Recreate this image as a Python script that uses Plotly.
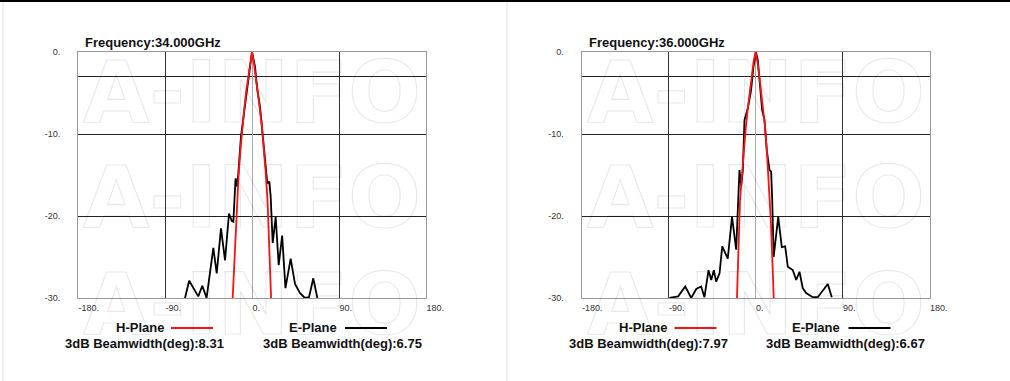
import plotly.graph_objects as go

# ---- data -------------------------------------------------------------
frequencies = ["Frequency:34.000GHz", "Frequency:36.000GHz"]
h_beamwidth = [8.31, 7.97]
e_beamwidth = [6.75, 6.67]

x_tickvals = [-180, -90, 0, 90, 180]
x_ticktext = ["-180.", "-90.", "0.", "90.", "180."]
y_tickvals = [0, -10, -20, -30]
y_ticktext = ["0.", "-10.", "-20.", "-30."]

# 34 GHz, H-plane
h34_angle = [-20, -18, -16, -14, -12, -10, -8, -6, -4, -2, 0,
             2, 4, 6, 8, 10, 12, 14, 16, 18, 20]
h34_db = [-30.0, -24.7, -19.3, -15.3, -12.0, -9.1, -6.9, -4.8, -3.1, -1.4, 0.0,
          -1.4, -3.1, -4.7, -6.8, -8.8, -11.3, -14.4, -17.9, -24.4, -30.7]

# 34 GHz, E-plane
e34_angle = [-69.3, -65.0, -55.6, -51.4, -47.0, -40.0, -36.5, -32.1, -27.9,
             -23.8, -21.0, -19.3, -17.0, -15.6, -14.2, -11.4, -9.0, -5.5,
             -2.1, 0.0, 3.1, 5.5, 8.3, 10.7, 13.4, 15.8, 17.9, 19.3, 21.4,
             24.5, 27.6, 31.2, 34.6, 40.0, 44.5, 49.7, 54.8, 59.0, 63.4, 67.6]
e34_db = [-30.0, -27.9, -29.8, -28.5, -30.0, -23.9, -27.0, -21.5, -25.4,
          -19.7, -20.6, -20.7, -15.4, -16.4, -14.9, -10.3, -8.1, -5.0,
          -1.8, 0.0, -1.8, -4.6, -6.7, -9.9, -13.2, -16.0, -15.8, -17.6, -23.3,
          -20.1, -26.0, -22.4, -28.8, -25.2, -28.3, -29.4, -30.0, -29.9, -27.6, -30.0]

# 36 GHz, H-plane
h36_angle = [-20, -18, -16, -14, -12, -10, -8, -6, -4, -2, 0,
             2, 4, 6, 8, 10, 12, 14, 16, 18, 19]
h36_db = [-33.0, -24.4, -18.1, -15.0, -11.9, -9.2, -6.9, -4.8, -3.0, -1.2, 0.0,
          -1.2, -3.0, -5.0, -7.1, -9.3, -12.6, -16.8, -20.9, -27.2, -30.5]

# 36 GHz, E-plane
e36_angle = [-89.0, -80.0, -72.7, -66.5, -61.3, -56.2, -52.8, -48.6, -45.8,
             -43.1, -40.7, -37.2, -34.4, -28.7, -24.3, -20.0, -16.6, -14.8,
             -13.1, -11.4, -8.0, -4.5, -2.1, 0.5, 2.4, 4.1, 6.9, 9.3, 11.7,
             14.5, 16.2, 17.3, 18.8, 23.5, 27.2, 30.7, 33.4, 38.6, 42.1, 45.5,
             48.9, 52.4, 59.3, 64.4, 74.8, 78.9]
e36_db = [-30.0, -29.8, -28.6, -30.0, -28.9, -28.6, -29.9, -26.6, -27.8,
          -26.6, -28.0, -27.0, -23.7, -25.2, -20.1, -24.1, -14.4, -16.4,
          -14.4, -8.3, -6.9, -4.6, -1.8, 0.0, -1.0, -3.4, -7.1, -8.3, -12.0,
          -14.4, -14.6, -18.0, -25.0, -20.1, -23.8, -23.7, -26.2, -26.6, -27.8, -26.8,
          -28.8, -29.4, -29.9, -29.9, -28.3, -29.9]

panels = [
    (h34_angle, h34_db, e34_angle, e34_db),
    (h36_angle, h36_db, e36_angle, e36_db),
]

# ---- layout geometry (pixels) -----------------------------------------
W, H = 1010, 381
plot_left = [78, 581.5]
plot_w = 348
plot_top, plot_bottom = 52, 298

RED = "#ff1010"
LINE_W = 1.8
FONT = "Liberation Sans, Arial, sans-serif"
TICK_FONT = dict(family="Liberation Sans Narrow, Arial Narrow, Liberation Sans, Arial",
                 size=9, color="#333333")


def px(x):
    return x / W


def py(y):
    return 1 - y / H


fig = go.Figure()
annotations = []
shapes = []

for i, (ha, hd, ea, ed) in enumerate(panels):
    sfx = "" if i == 0 else str(i + 1)
    xa, ya = "x" + sfx, "y" + sfx

    fig.add_trace(go.Scatter(x=ea, y=ed, mode="lines", xaxis=xa, yaxis=ya,
                             line=dict(color="#000000", width=LINE_W),
                             showlegend=False, hoverinfo="skip"))
    fig.add_trace(go.Scatter(x=ha, y=hd, mode="lines", xaxis=xa, yaxis=ya,
                             line=dict(color=RED, width=LINE_W),
                             showlegend=False, hoverinfo="skip"))

    left = plot_left[i]
    fig.layout["xaxis" + sfx] = dict(
        domain=[px(left), px(left + plot_w)], range=[-180, 180], anchor=ya,
        automargin=False,
        tickmode="array", tickvals=x_tickvals, ticktext=x_ticktext,
        ticklabelposition="outside right", ticks="", tickfont=TICK_FONT,
        ticklabelstandoff=1,
        showgrid=False, zeroline=True, zerolinecolor="#aaaaaa", zerolinewidth=1,
        showline=True, linecolor="#999999", linewidth=1, mirror=True,
        minor=dict(tickmode="array", tickvals=[-90, 90], showgrid=True,
                   gridcolor="#333333", gridwidth=1, ticks=""),
        fixedrange=True,
    )
    fig.layout["yaxis" + sfx] = dict(
        domain=[py(plot_bottom), py(plot_top)], range=[-30, 0], anchor=xa,
        automargin=False,
        tickmode="array", tickvals=y_tickvals, ticktext=y_ticktext,
        ticks="", tickfont=TICK_FONT, ticklabelstandoff=15,
        showgrid=False, zeroline=False,
        showline=True, linecolor="#999999", linewidth=1, mirror=True,
        minor=dict(tickmode="array", tickvals=[-3, -10, -20], showgrid=True,
                   gridcolor="#222222", gridwidth=1, ticks=""),
        fixedrange=True,
    )

    # watermark rows
    for row_y in [91.5, 197, 304]:
        annotations.append(dict(
            text="A-INFO", xref="paper", yref="paper",
            x=px(left + plot_w / 2), y=py(row_y), xanchor="center", yanchor="middle",
            showarrow=False,
            font=dict(family="DejaVu Sans", size=86, color="rgba(0,0,0,0.04)",
                      weight="bold"),
        ))

    # title
    annotations.append(dict(
        text=frequencies[i], xref="paper", yref="paper",
        x=px(left + 5), y=py(42), xanchor="left", yanchor="middle",
        showarrow=False, font=dict(family=FONT, size=13, color="#111111", weight="bold"),
    ))

    # legend block under the plot
    leg = [
        ("H-Plane", 61.5, 93, 135, RED, h_beamwidth[i], 66.5),
        ("E-Plane", 234.5, 267, 309, "#000000", e_beamwidth[i], 264),
    ]
    for name, name_cx, l0, l1, col, bw, bw_cx in leg:
        annotations.append(dict(
            text=name, xref="paper", yref="paper",
            x=px(left + name_cx), y=py(327), xanchor="center", yanchor="middle",
            showarrow=False, font=dict(family=FONT, size=13, color="#111111", weight="bold"),
        ))
        shapes.append(dict(type="line", xref="paper", yref="paper",
                           x0=px(left + l0), x1=px(left + l1), y0=py(328), y1=py(328),
                           line=dict(color=col, width=LINE_W)))
        annotations.append(dict(
            text=f"3dB Beamwidth(deg):{bw:.2f}", xref="paper", yref="paper",
            x=px(left + bw_cx), y=py(343.5), xanchor="center", yanchor="middle",
            showarrow=False, font=dict(family=FONT, size=13, color="#111111", weight="bold"),
        ))

# page frame
shapes.append(dict(type="line", xref="paper", yref="paper", x0=0, x1=1,
                   y0=py(1), y1=py(1), line=dict(color="#000000", width=2)))
for vx in [3, 507]:
    shapes.append(dict(type="line", xref="paper", yref="paper", x0=px(vx), x1=px(vx),
                       y0=py(3), y1=0, line=dict(color="#dddddd", width=1)))

fig.update_layout(
    width=W, height=H, autosize=False,
    margin=dict(l=0, r=0, t=0, b=0, pad=0, autoexpand=False),
    paper_bgcolor="white", plot_bgcolor="white",
    annotations=annotations, shapes=shapes,
    showlegend=False,
)

# page without body margin or scrollbars, plus a hollow outline look for the watermark text
page_js = """
document.documentElement.style.margin = '0';
document.documentElement.style.overflow = 'hidden';
document.body.style.margin = '0';
document.body.style.padding = '0';
document.body.style.overflow = 'hidden';
var gd = document.getElementById('{plot_id}');
function outlineMark() {
  gd.querySelectorAll('text.annotation-text').forEach(function (t) {
    if (t.textContent === 'A-INFO') {
      t.style.fill = 'none';
      t.style.stroke = 'rgba(0,0,0,0.09)';
      t.style.strokeWidth = '1.2px';
    }
  });
}
outlineMark();
if (gd.on) { gd.on('plotly_afterplot', outlineMark); }
"""

fig.write_html("out.html", post_script=page_js,
               config={"displayModeBar": False, "responsive": False})
